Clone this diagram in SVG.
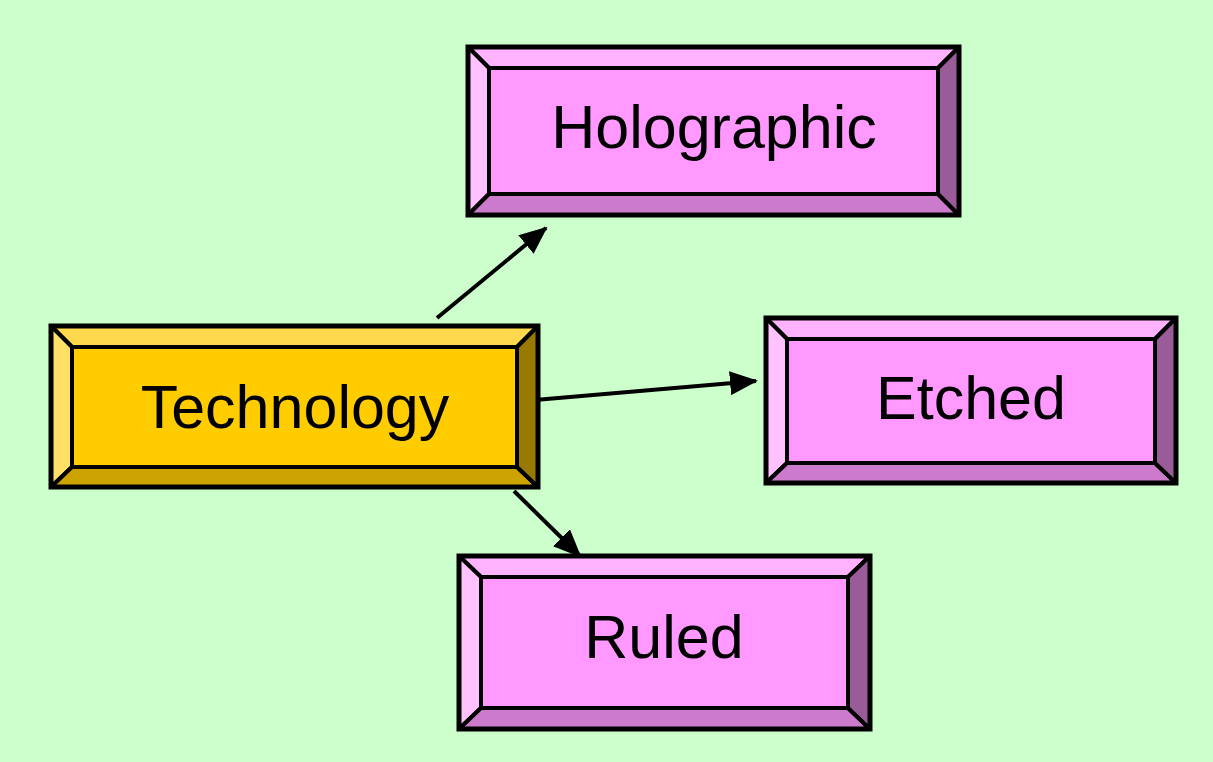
<svg xmlns="http://www.w3.org/2000/svg" width="1213" height="762" viewBox="0 0 1213 762">
<defs>
<marker id="ah" markerWidth="7" markerHeight="6" refX="6.5" refY="3" orient="auto" markerUnits="strokeWidth">
<path d="M0,0 L7,3 L0,6 Z" fill="#000"/>
</marker>
<style>
.s{stroke:#000;stroke-width:4;stroke-linejoin:round}
.o{fill:none;stroke:#000;stroke-width:5;stroke-linejoin:miter}
.t{font-family:"Liberation Sans",Arial,sans-serif;font-size:61px;fill:#000;text-anchor:middle}
.g0{fill:#FFCC00}.g1{fill:#FFD94D}.g2{fill:#FFE066}.g3{fill:#CCA300}.g4{fill:#997A00}
.p0{fill:#FF99FF}.p1{fill:#FFB3FF}.p2{fill:#FFC2FF}.p3{fill:#CC7ACC}.p4{fill:#995C99}
.c{stroke:#000;stroke-width:4;fill:none}
</style>
</defs>
<rect width="1213" height="762" fill="#CCFFCC"/>
<g id="connectors">
<line class="c" x1="437" y1="318" x2="546" y2="228" marker-end="url(#ah)"/>
<line class="c" x1="535" y1="400" x2="756" y2="381" marker-end="url(#ah)"/>
<line class="c" x1="514" y1="491" x2="580" y2="556" marker-end="url(#ah)"/>
</g>
<g id="technology">
<polygon class="s g1" points="51,326 538,326 517,347 72,347"/>
<polygon class="s g2" points="51,326 72,347 72,467 51,487"/>
<polygon class="s g3" points="51,487 72,467 517,467 538,487"/>
<polygon class="s g4" points="538,326 538,487 517,467 517,347"/>
<rect class="s g0" x="72" y="347" width="445" height="120"/>
<rect class="o" x="51" y="326" width="487" height="161"/>
<text class="t" x="295" y="428">Technology</text>
</g>
<g id="holographic">
<polygon class="s p1" points="468,47 959,47 938,68 489,68"/>
<polygon class="s p2" points="468,47 489,68 489,194 468,215"/>
<polygon class="s p3" points="468,215 489,194 938,194 959,215"/>
<polygon class="s p4" points="959,47 959,215 938,194 938,68"/>
<rect class="s p0" x="489" y="68" width="449" height="126"/>
<rect class="o" x="468" y="47" width="491" height="168"/>
<text class="t" x="714" y="148">Holographic</text>
</g>
<g id="etched">
<polygon class="s p1" points="766,318 1176,318 1155,339 787,339"/>
<polygon class="s p2" points="766,318 787,339 787,463 766,483"/>
<polygon class="s p3" points="766,483 787,463 1155,463 1176,483"/>
<polygon class="s p4" points="1176,318 1176,483 1155,463 1155,339"/>
<rect class="s p0" x="787" y="339" width="368" height="124"/>
<rect class="o" x="766" y="318" width="410" height="165"/>
<text class="t" x="971" y="419">Etched</text>
</g>
<g id="ruled">
<polygon class="s p1" points="459,556 870,556 848,577 481,577"/>
<polygon class="s p2" points="459,556 481,577 481,708 459,729"/>
<polygon class="s p3" points="459,729 481,708 848,708 870,729"/>
<polygon class="s p4" points="870,556 870,729 848,708 848,577"/>
<rect class="s p0" x="481" y="577" width="367" height="131"/>
<rect class="o" x="459" y="556" width="411" height="173"/>
<text class="t" x="664" y="658">Ruled</text>
</g>
</svg>
